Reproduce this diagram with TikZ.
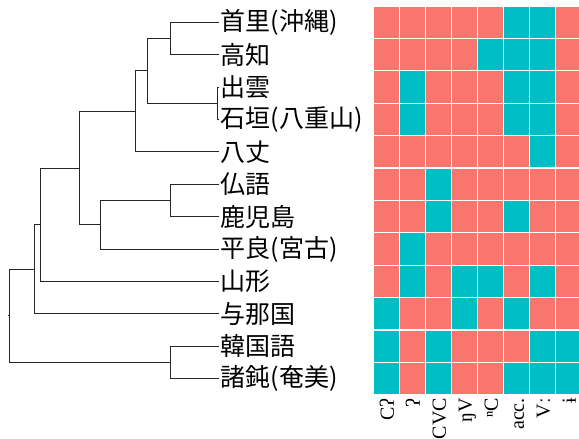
\documentclass[tikz,border=0pt]{standalone}
\usepackage{fontspec}
\setmainfont{Liberation Serif}
\newfontfamily\cjk{Noto Sans CJK JP}
\definecolor{cred}{HTML}{F8766D}
\definecolor{cteal}{HTML}{00BFC4}
\begin{document}
\begin{tikzpicture}[x=1pt,y=-1pt,
  branch/.style={draw=black!85,line width=0.9pt,line join=miter},
  leaflabel/.style={anchor=west,inner sep=0pt,font=\cjk\fontsize{25}{25}\selectfont},
  collabel/.style={rotate=90,anchor=base east,inner sep=0pt,font=\fontsize{20}{20}\selectfont},
  cell/.style={draw=white,line width=1.2pt}]
\useasboundingbox (0,0) rectangle (579,439);
% leaves
\foreach \i/\t in {1/首里(沖縄),2/高知,3/出雲,4/石垣(八重山),5/八丈,6/仏語,7/鹿児島,8/平良(宮古),9/山形,10/与那国,11/韓国語,12/諸鈍(奄美)}{
  \coordinate (l\i) at (218.5,{6+32.4*(\i-0.5)});
  \node[leaflabel] (t\i) at ([xshift=2pt]l\i) {\t};
}
% internal nodes
\coordinate (n12) at (170.7,38.4);
\coordinate (n34) at (217,103.2);
\coordinate (n1234) at (147,70.8);
\coordinate (n12345) at (135.3,111.3);
\coordinate (n67) at (170.7,200.4);
\coordinate (n678) at (100,224.7);
\coordinate (nA) at (79.3,168);
\coordinate (nA9) at (40.7,224.7);
\coordinate (nA910) at (34,269.25);
\coordinate (n1112) at (170.7,362.4);
\coordinate (root) at (9.3,315.8);
\coordinate (rs) at (7.8,315.8);
\draw[branch] (n12) |- (l1) (n12) |- (l2);
\draw[branch] (n34) |- (l3) (n34) |- (l4);
\draw[branch] (n1234) |- (n12) (n1234) |- (n34);
\draw[branch] (n12345) |- (n1234) (n12345) |- (l5);
\draw[branch] (n67) |- (l6) (n67) |- (l7);
\draw[branch] (n678) |- (n67) (n678) |- (l8);
\draw[branch] (nA) |- (n12345) (nA) |- (n678);
\draw[branch] (nA9) |- (nA) (nA9) |- (l9);
\draw[branch] (nA910) |- (nA9) (nA910) |- (l10);
\draw[branch] (n1112) |- (l11) (n1112) |- (l12);
\draw[branch] (root) |- (nA910) (root) |- (n1112);
\draw[branch] (rs) -- (root);
% grid
\foreach \r in {1,...,12}{
  \foreach \c in {1,...,8}{
    \path[cell,fill=cred] ({373.3+26*(\c-1)},{6+32.4*(\r-1)}) rectangle +(26,32.4);
  }
}
\foreach \r/\cs in {1/{6,7},2/{5,6,7},3/{2,6,7},4/{2,6,7},5/{7},6/{3},7/{3,6},8/{2},9/{2,4,5,7},10/{1,4,6},11/{1,3,7,8},12/{1,3,6,7,8}}{
  \foreach \c in \cs{
    \path[cell,fill=cteal] ({373.3+26*(\c-1)},{6+32.4*(\r-1)}) rectangle +(26,32.4);
  }
}
% column labels
\foreach \c/\t in {1/Cʔ,2/ʔ,3/CVC,4/ŋV,5/ⁿC,6/acc.,7/Vː,8/ɨ}{
  \node[collabel] (c\c) at ({373.3+26*(\c-0.5)+7.5},398) {\t};
}
\end{tikzpicture}
\end{document}
